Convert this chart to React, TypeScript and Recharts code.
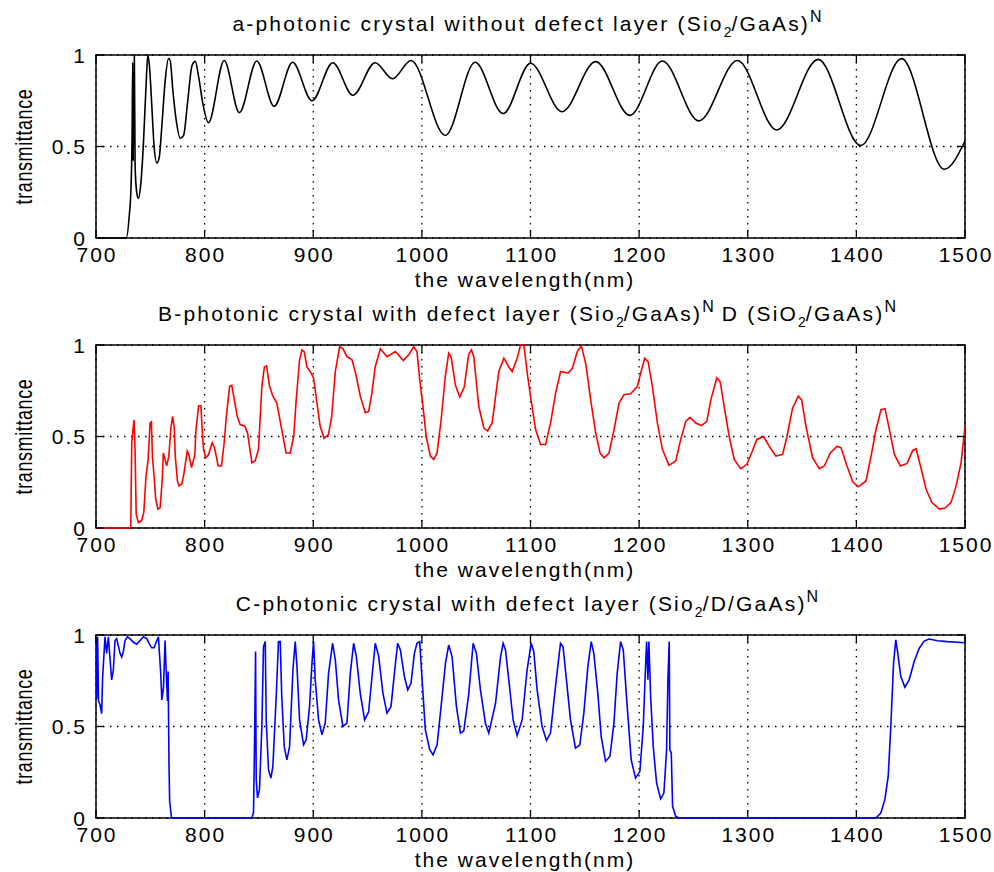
import React from 'react';
import { LineChart, Line, XAxis, YAxis, CartesianGrid, ReferenceArea } from 'recharts';

const FONT = '"Liberation Sans", Arial, sans-serif';

// axis ticks
const xTicks = [700, 800, 900, 1000, 1100, 1200, 1300, 1400, 1500];
const yTicks = [0, 0.5, 1];

// a - without defect layer
const wlA = [700, 728, 730.8, 732, 733.2, 733.8, 734.3, 735.3, 736, 737.6, 739, 741.3, 743.7, 746.2, 747.7, 749.2, 751.4, 753.5, 756, 758.2, 760.6, 763.7, 766.7, 768.3, 770.7, 773.8, 777.5, 780.6, 784.3, 788.3, 791.4, 794.5, 798.5, 803.5, 818, 832, 848, 864, 881, 898.8, 918, 936.5, 957, 973, 990, 1021.6, 1049, 1074.8, 1100, 1129, 1160, 1191.5, 1221.4, 1255, 1290.5, 1326.7, 1364.8, 1404, 1441.6, 1481, 1500];
const tA = [0, 0, 0.135, 0.24, 0.55, 0.96, 0.42, 1.0, 0.39, 0.244, 0.217, 0.3, 0.52, 0.85, 1.0, 0.94, 0.72, 0.5, 0.41, 0.44, 0.61, 0.86, 0.98, 0.97, 0.81, 0.645, 0.545, 0.56, 0.74, 0.94, 0.965, 0.88, 0.73, 0.63, 0.97, 0.685, 0.967, 0.72, 0.96, 0.75, 0.958, 0.78, 0.958, 0.87, 0.97, 0.56, 0.96, 0.68, 0.955, 0.69, 0.964, 0.67, 0.967, 0.64, 0.97, 0.59, 0.976, 0.505, 0.98, 0.376, 0.53];

// B - defect layer between two stacks
const wlB = [700, 732, 732.9, 735, 736, 737, 739, 742, 744, 746, 748, 749.8, 751, 752, 753.5, 755, 757, 759, 761, 762, 765, 767, 769, 770.5, 772, 773, 775, 776.5, 779, 781, 784, 785.5, 788, 791, 792, 794.5, 796.6, 797.5, 799, 801, 803.5, 807, 809, 811, 812.5, 815.5, 818, 820, 823, 825, 830, 832.7, 837, 839.5, 843.5, 846.5, 849.6, 852.7, 855, 857, 859.8, 862.8, 866.5, 871, 875, 878.8, 882, 884.3, 887.4, 889.6, 891.7, 894.2, 897.2, 900.3, 903.4, 906.4, 910, 914, 917, 920.3, 924.3, 927.3, 931, 935.6, 939.6, 943.3, 947.9, 951, 954, 957, 961.8, 967.9, 975.6, 983, 987.9, 992.5, 995.5, 998, 1001, 1004, 1007.8, 1010.9, 1014, 1017.7, 1021.6, 1024.7, 1026.9, 1030.9, 1034.9, 1039, 1043, 1045.6, 1047.8, 1052.4, 1057, 1060.5, 1064.7, 1067, 1070.8, 1075.5, 1080, 1083.1, 1087.7, 1090.8, 1093.9, 1097, 1100, 1104.7, 1109.3, 1113.9, 1118.5, 1123.1, 1127.7, 1134.5, 1138.5, 1143.1, 1146.8, 1150.8, 1155.4, 1160, 1164, 1167.7, 1172.3, 1176.9, 1181.5, 1186, 1192.2, 1198.4, 1201.4, 1205.1, 1208.2, 1212.2, 1216.8, 1221.4, 1227.5, 1233.7, 1238.3, 1242.9, 1246.9, 1252.1, 1257.4, 1262.3, 1266, 1271.5, 1274.6, 1278.3, 1282.9, 1287.5, 1293.6, 1299.2, 1303.5, 1308.4, 1314.5, 1319.8, 1325.9, 1332.1, 1336.1, 1341.3, 1346.5, 1349.6, 1353.6, 1359.7, 1365.9, 1370.5, 1376, 1382.2, 1385.9, 1391.4, 1396.6, 1401.8, 1408.9, 1413.5, 1418.1, 1422.7, 1426.4, 1430.4, 1435, 1440.5, 1446.7, 1451.9, 1455, 1459, 1464.2, 1469.4, 1476.5, 1481.7, 1487.2, 1491.8, 1496.4, 1500];
const tB = [0, 0, 0.466, 0.59, 0.42, 0.076, 0.03, 0.04, 0.085, 0.28, 0.375, 0.574, 0.58, 0.385, 0.28, 0.157, 0.103, 0.11, 0.266, 0.41, 0.34, 0.39, 0.547, 0.61, 0.55, 0.39, 0.257, 0.23, 0.24, 0.3, 0.42, 0.4, 0.33, 0.4, 0.538, 0.668, 0.668, 0.56, 0.43, 0.384, 0.4, 0.466, 0.44, 0.384, 0.339, 0.339, 0.466, 0.61, 0.773, 0.78, 0.61, 0.565, 0.556, 0.52, 0.357, 0.366, 0.43, 0.774, 0.88, 0.886, 0.774, 0.72, 0.683, 0.538, 0.41, 0.41, 0.5, 0.7, 0.918, 0.973, 0.964, 0.88, 0.855, 0.82, 0.683, 0.556, 0.49, 0.51, 0.61, 0.855, 0.99, 0.98, 0.936, 0.92, 0.83, 0.72, 0.63, 0.637, 0.737, 0.88, 0.98, 0.936, 0.964, 0.915, 0.946, 0.99, 0.964, 0.81, 0.665, 0.5, 0.393, 0.375, 0.41, 0.59, 0.83, 0.955, 0.936, 0.78, 0.716, 0.77, 0.946, 0.973, 0.936, 0.665, 0.547, 0.53, 0.574, 0.68, 0.855, 0.928, 0.88, 0.855, 0.928, 1.0, 1.0, 0.846, 0.72, 0.538, 0.456, 0.456, 0.574, 0.737, 0.855, 0.846, 0.873, 0.964, 0.995, 0.9, 0.7, 0.52, 0.41, 0.384, 0.41, 0.538, 0.683, 0.728, 0.733, 0.774, 0.846, 0.928, 0.91, 0.774, 0.574, 0.43, 0.342, 0.366, 0.484, 0.583, 0.605, 0.574, 0.56, 0.583, 0.7, 0.82, 0.8, 0.665, 0.5, 0.375, 0.324, 0.348, 0.41, 0.484, 0.5, 0.447, 0.393, 0.402, 0.5, 0.656, 0.72, 0.7, 0.556, 0.384, 0.324, 0.339, 0.41, 0.447, 0.438, 0.339, 0.252, 0.225, 0.257, 0.393, 0.538, 0.647, 0.652, 0.538, 0.402, 0.339, 0.353, 0.424, 0.433, 0.339, 0.212, 0.14, 0.103, 0.109, 0.14, 0.23, 0.357, 0.556];

// C - defect inside each period
const wlC = [700, 700.6, 701.5, 702.3, 703.7, 705.2, 706.1, 708.3, 709.8, 711.4, 712.9, 714.4, 716, 717.5, 719, 720.6, 722.1, 723.7, 725.2, 726.7, 728.9, 731.3, 734.4, 737.5, 740.6, 743.7, 746.7, 749.2, 751.3, 753.5, 755.3, 757.5, 758.4, 759.6, 760.6, 762.1, 763.6, 764.5, 765.8, 766.4, 767.2, 767.8, 769.5, 843.5, 845, 846, 846.9, 847.5, 848.7, 850.5, 852.7, 854.2, 855.8, 856.7, 858.8, 861, 862.8, 865.9, 868, 869.6, 871, 873.3, 875.7, 878.2, 881.3, 883.4, 885, 887.4, 891.1, 893.5, 896.6, 898.8, 900.3, 901.8, 904.9, 908, 911, 914.1, 917.8, 920.3, 923.3, 927.3, 931, 934.1, 937.2, 939.6, 943.3, 947.3, 951, 954.1, 957.1, 960.2, 964.2, 967.9, 971.6, 974.7, 977.7, 980.2, 983.9, 987, 990, 993.1, 995.5, 998, 1000.2, 1003.2, 1007.2, 1010.3, 1014, 1017.7, 1021.7, 1024.7, 1027.8, 1031.8, 1035.5, 1038.6, 1043.2, 1047.2, 1050.2, 1053.9, 1058.5, 1061.6, 1067.8, 1072.4, 1074.8, 1077, 1080, 1084, 1087.7, 1092.3, 1096.9, 1100.6, 1103, 1106.1, 1110.7, 1114.7, 1118.4, 1123, 1127.6, 1130, 1133.1, 1136.8, 1141.4, 1145.4, 1149.1, 1152.8, 1155.9, 1158.3, 1162, 1165.1, 1169.1, 1173.1, 1176.8, 1179.8, 1182.9, 1185.4, 1189, 1192.7, 1196.7, 1200.7, 1203.8, 1205.9, 1206.9, 1208.1, 1209, 1210.6, 1213, 1216.1, 1219.8, 1222.8, 1225.3, 1226.5, 1227.7, 1228.3, 1229.6, 1230.8, 1233.6, 1236.6, 1417.9, 1422.5, 1426.2, 1429.3, 1431.7, 1434.2, 1436.3, 1437.9, 1440.9, 1444.6, 1448.6, 1453.2, 1457.8, 1462.4, 1467, 1474.7, 1483.9, 1500];
const tC = [0.97, 0.65, 0.99, 0.64, 0.62, 0.57, 0.77, 0.99, 0.9, 0.99, 0.87, 0.755, 0.81, 0.97, 0.98, 0.94, 0.9, 0.88, 0.91, 0.97, 0.99, 0.98, 0.96, 0.95, 0.97, 0.99, 0.98, 0.95, 0.93, 0.93, 0.96, 0.99, 0.9, 0.79, 0.645, 0.71, 0.97, 0.82, 0.64, 0.8, 0.3, 0.09, 0, 0, 0.03, 0.43, 0.91, 0.21, 0.11, 0.155, 0.5, 0.936, 0.964, 0.536, 0.264, 0.218, 0.28, 0.664, 0.964, 0.964, 0.664, 0.39, 0.318, 0.39, 0.81, 0.964, 0.83, 0.536, 0.4, 0.427, 0.61, 0.845, 0.964, 0.755, 0.536, 0.455, 0.518, 0.79, 0.955, 0.864, 0.645, 0.5, 0.518, 0.79, 0.955, 0.885, 0.68, 0.536, 0.58, 0.773, 0.955, 0.885, 0.68, 0.573, 0.61, 0.79, 0.955, 0.918, 0.773, 0.7, 0.736, 0.9, 0.955, 0.964, 0.755, 0.482, 0.373, 0.345, 0.4, 0.61, 0.845, 0.945, 0.882, 0.61, 0.464, 0.476, 0.68, 0.955, 0.9, 0.7, 0.518, 0.464, 0.627, 0.88, 0.955, 0.918, 0.755, 0.536, 0.45, 0.536, 0.81, 0.955, 0.91, 0.7, 0.5, 0.424, 0.464, 0.718, 0.955, 0.936, 0.755, 0.536, 0.382, 0.4, 0.573, 0.827, 0.964, 0.9, 0.68, 0.445, 0.31, 0.336, 0.518, 0.79, 0.964, 0.918, 0.61, 0.318, 0.218, 0.255, 0.5, 0.827, 0.964, 0.755, 0.964, 0.664, 0.39, 0.19, 0.104, 0.136, 0.373, 0.755, 0.964, 0.373, 0.355, 0.064, 0.01, 0, 0, 0.027, 0.1, 0.227, 0.5, 0.845, 0.973, 0.91, 0.773, 0.715, 0.755, 0.855, 0.927, 0.967, 0.978, 0.969, 0.964, 0.958];

const toRows = (wl: number[], t: number[]) => wl.map((w, i) => ({ wl: w, t: t[i] }));

const W = 994;
const PANEL_H = 290;
const PLOT_TOP = 55;
const PLOT_LEFT = 96;
const PLOT_RIGHT = 965;
const PLOT_H = 183;

const XTick = (props: any) => {
  const { x, y, payload } = props;
  return (
    <g>
      <line x1={x} x2={x} y1={y} y2={y - 8} stroke="#000" strokeWidth={1.3} />
      <line x1={x} x2={x} y1={PLOT_TOP} y2={PLOT_TOP + 8} stroke="#000" strokeWidth={1.3} />
      <text x={x + 1} y={y + 23.5} textAnchor="middle" fontSize={21} letterSpacing={2} fontFamily={FONT} fill="#000">
        {payload.value}
      </text>
    </g>
  );
};

const YTick = (props: any) => {
  const { x, y, payload } = props;
  return (
    <g>
      <line x1={x} x2={x + 8} y1={y} y2={y} stroke="#000" strokeWidth={1.3} />
      <line x1={PLOT_RIGHT} x2={PLOT_RIGHT - 8} y1={y} y2={y} stroke="#000" strokeWidth={1.3} />
      <text x={x - 9} y={y + 7.5} textAnchor="end" fontSize={21} letterSpacing={2} fontFamily={FONT} fill="#000">
        {payload.value}
      </text>
    </g>
  );
};

const YLabel = () => (
  <text
    transform={`translate(32,${PLOT_TOP + PLOT_H / 2}) rotate(-90) scale(1,1.3)`}
    textAnchor="middle"
    fontSize={18}
    letterSpacing={0.6}
    fontFamily={FONT}
    fill="#000"
  >
    transmittance
  </text>
);

const sub = { fontSize: 14, verticalAlign: '-6px', lineHeight: 0, letterSpacing: 0 };
const sup = { fontSize: 16, verticalAlign: '9px', lineHeight: 0, letterSpacing: 0 };

const titleStyle: React.CSSProperties = {
  position: 'absolute',
  left: 60,
  width: 934,
  top: 13,
  textAlign: 'center',
  fontSize: 21,
  lineHeight: '21px',
  letterSpacing: 2.2,
  fontFamily: FONT,
  whiteSpace: 'nowrap',
  color: '#000',
};

const xLabelStyle: React.CSSProperties = {
  ...titleStyle,
  top: 269,
  letterSpacing: 2,
  width: 930,
};

interface PanelProps {
  top: number;
  height: number;
  title: React.ReactNode;
  rows: { wl: number; t: number }[];
  color: string;
  curve: 'monotone' | 'linear';
}

const Panel: React.FC<PanelProps> = ({ top, height, title, rows, color, curve }) => (
  <div style={{ position: 'absolute', left: 0, top, width: W, height }}>
    <LineChart
      width={W}
      height={height}
      data={rows}
      margin={{ top: PLOT_TOP, right: W - PLOT_RIGHT, bottom: height - PLOT_TOP - PLOT_H - 52, left: 0 }}
    >
      <CartesianGrid stroke="#000" strokeWidth={1.3} strokeDasharray="1.5 5.5" />
      <XAxis
        dataKey="wl"
        type="number"
        domain={[700, 1500]}
        ticks={xTicks}
        interval={0}
        allowDataOverflow
        height={52}
        tickSize={0}
        tickMargin={0}
        tickLine={false}
        axisLine={false}
        tick={(p: any) => <XTick {...p} />}
      />
      <YAxis
        type="number"
        domain={[0, 1]}
        ticks={yTicks}
        interval={0}
        width={PLOT_LEFT}
        tickSize={0}
        tickMargin={0}
        tickLine={false}
        axisLine={false}
        tick={(p: any) => <YTick {...p} />}
        label={<YLabel />}
      />
      <ReferenceArea x1={700} x2={1500} y1={0} y2={1} fill="none" fillOpacity={0} stroke="#000" strokeWidth={1.5} />
      <Line
        type={curve}
        dataKey="t"
        stroke={color}
        strokeWidth={1.6}
        dot={false}
        activeDot={false}
        isAnimationActive={false}
      />
    </LineChart>
    <div style={titleStyle}>{title}</div>
    <div style={xLabelStyle}>the wavelength(nm)</div>
  </div>
);

export default function App() {
  return (
    <div style={{ position: 'absolute', left: 0, top: 0, width: W, height: 872, background: '#fff', overflow: 'hidden' }}>
      <Panel
        top={0}
        height={PANEL_H}
        rows={toRows(wlA, tA)}
        color="#000"
        curve="monotone"
        title={
          <>
            a-photonic crystal without defect layer (Sio<sub style={sub}>2</sub>/GaAs)<sup style={sup}>N</sup>
          </>
        }
      />
      <Panel
        top={290}
        height={PANEL_H}
        rows={toRows(wlB, tB)}
        color="#ff0000"
        curve="linear"
        title={
          <>
            B-photonic crystal with defect layer (Sio<sub style={sub}>2</sub>/GaAs)<sup style={sup}>N</sup> D (SiO
            <sub style={sub}>2</sub>/GaAs)<sup style={sup}>N</sup>
          </>
        }
      />
      <Panel
        top={580}
        height={292}
        rows={toRows(wlC, tC)}
        color="#0000ff"
        curve="linear"
        title={
          <>
            C-photonic crystal with defect layer (Sio<sub style={sub}>2</sub>/D/GaAs)<sup style={sup}>N</sup>
          </>
        }
      />
    </div>
  );
}
